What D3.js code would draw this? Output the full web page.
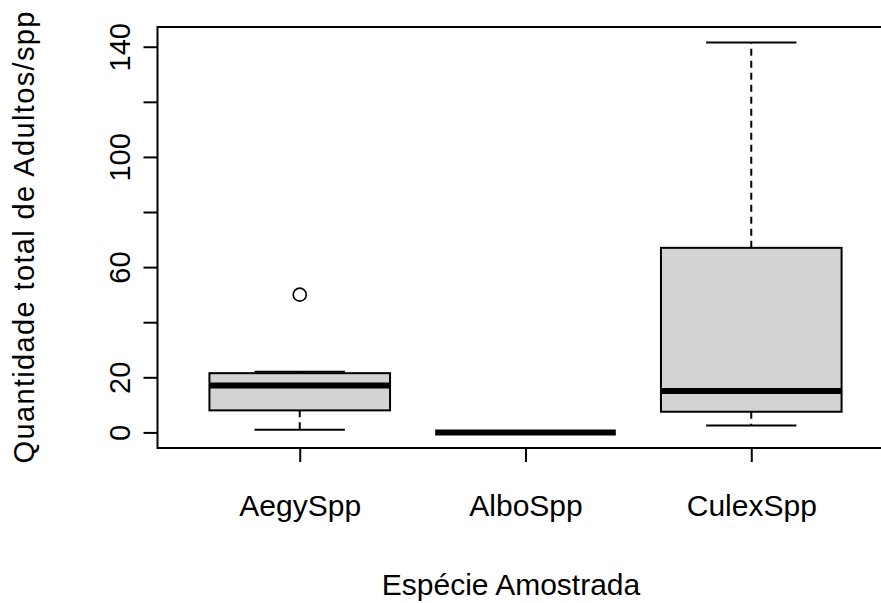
<!DOCTYPE html>
<html>
<head>
<meta charset="utf-8">
<style>
  body { margin: 0; background: #fff; }
  text { font-family: "Liberation Sans", Arial, sans-serif; fill: #000; }
  .box { fill: #d3d3d3; stroke: #000; stroke-width: 2px; }
  .median { stroke: #000; stroke-width: 6px; }
  .whisker { stroke: #000; stroke-width: 2px; stroke-dasharray: 7,5; }
  .staple { stroke: #000; stroke-width: 2px; }
  .outlier { fill: none; stroke: #000; stroke-width: 1.6px; }
</style>
<script src="https://cdn.jsdelivr.net/npm/d3@7"></script>
</head>
<body>
<script>
// summary stats
var categories = ["AegySpp", "AlboSpp", "CulexSpp"];
var lowerWhisker = [1, 0, 2.5];
var q1 = [8, 0, 7.5];
var median = [17, 0, 15];
var q3 = [21.5, 0, 67];
var upperWhisker = [22, 0, 141.5];
var outliers = [[50], [], []];
var yTicks = [0, 20, 40, 60, 80, 100, 120, 140];
var yTickLabels = ["0", "20", "", "60", "", "100", "", "140"];

var W = 881, H = 603;
var plotLeft = 157.5, plotTop = 27, plotBottom = 448, plotRight = 893.5;

var boxes = categories.map(function(c, i) {
  return {name: c, pos: i + 1, lo: lowerWhisker[i], q1: q1[i], med: median[i],
          q3: q3[i], hi: upperWhisker[i], out: outliers[i]};
});

var ymin = d3.min(boxes, function(d) { return d3.min([d.lo].concat(d.out)); });
var ymax = d3.max(boxes, function(d) { return d3.max([d.hi].concat(d.out)); });
var pad = (ymax - ymin) * 0.04;

var x = d3.scaleLinear().domain([0.37, categories.length + 0.63]).range([plotLeft, plotRight]);
var y = d3.scaleLinear().domain([ymin - pad, ymax + pad]).range([plotBottom, plotTop]);
var unit = x(2) - x(1);

var svg = d3.select("body").append("svg")
  .attr("width", W).attr("height", H);

var g = svg.selectAll(".bp")
  .data(boxes)
  .enter().append("g")
  .attr("class", "bp");

g.append("line").attr("class", "whisker")
  .attr("x1", function(d) { return x(d.pos); }).attr("x2", function(d) { return x(d.pos); })
  .attr("y1", function(d) { return y(d.q3); }).attr("y2", function(d) { return y(d.hi); });
g.append("line").attr("class", "whisker")
  .attr("x1", function(d) { return x(d.pos); }).attr("x2", function(d) { return x(d.pos); })
  .attr("y1", function(d) { return y(d.q1); }).attr("y2", function(d) { return y(d.lo); });
g.append("line").attr("class", "staple")
  .attr("x1", function(d) { return x(d.pos) - unit * 0.2; })
  .attr("x2", function(d) { return x(d.pos) + unit * 0.2; })
  .attr("y1", function(d) { return y(d.hi); }).attr("y2", function(d) { return y(d.hi); });
g.append("line").attr("class", "staple")
  .attr("x1", function(d) { return x(d.pos) - unit * 0.2; })
  .attr("x2", function(d) { return x(d.pos) + unit * 0.2; })
  .attr("y1", function(d) { return y(d.lo); }).attr("y2", function(d) { return y(d.lo); });
g.append("rect").attr("class", "box")
  .attr("x", function(d) { return x(d.pos) - unit * 0.4; })
  .attr("width", unit * 0.8)
  .attr("y", function(d) { return y(d.q3); })
  .attr("height", function(d) { return y(d.q1) - y(d.q3); });
g.append("line").attr("class", "median")
  .attr("x1", function(d) { return x(d.pos) - unit * 0.4; })
  .attr("x2", function(d) { return x(d.pos) + unit * 0.4; })
  .attr("y1", function(d) { return y(d.med); }).attr("y2", function(d) { return y(d.med); });
g.selectAll(".outlier")
  .data(function(d) { return d.out.map(function(v) { return {pos: d.pos, v: v}; }); })
  .enter().append("circle").attr("class", "outlier")
  .attr("cx", function(d) { return x(d.pos); })
  .attr("cy", function(d) { return y(d.v); })
  .attr("r", 6.5);

// frame
svg.append("rect")
  .attr("x", plotLeft).attr("y", plotTop)
  .attr("width", plotRight - plotLeft).attr("height", plotBottom - plotTop)
  .attr("fill", "none").attr("stroke", "#000").attr("stroke-width", 2);

// y axis
var yAxis = svg.append("g")
  .attr("transform", "translate(" + plotLeft + ",0)")
  .call(d3.axisLeft(y).tickValues(yTicks).tickSize(14).tickSizeOuter(0)
    .tickFormat(function(d, i) { return yTickLabels[i]; }));
yAxis.select(".domain").remove();
yAxis.attr("font-family", null).attr("font-size", null);
yAxis.selectAll("line").attr("stroke-width", 2);
yAxis.selectAll("text")
  .attr("x", 0).attr("y", -27.5).attr("dy", null)
  .attr("transform", "rotate(-90)")
  .attr("text-anchor", "middle")
  .style("font-size", "29px");

// x axis
var xAxis = svg.append("g")
  .attr("transform", "translate(0," + plotBottom + ")")
  .call(d3.axisBottom(x).tickValues(d3.range(1, categories.length + 1)).tickSize(14).tickSizeOuter(0)
    .tickFormat(function(d) { return categories[d - 1]; }));
xAxis.select(".domain").remove();
xAxis.attr("font-family", null).attr("font-size", null);
xAxis.selectAll("line").attr("stroke-width", 2);
xAxis.selectAll("text")
  .attr("y", 68).attr("dy", null)
  .style("font-size", "30px");

// axis titles
svg.append("text")
  .attr("x", 511).attr("y", 595)
  .attr("text-anchor", "middle")
  .style("font-size", "30px")
  .text("Espécie Amostrada");

svg.append("text")
  .attr("transform", "translate(34," + (plotTop + plotBottom) / 2 + ") rotate(-90)")
  .attr("text-anchor", "middle")
  .attr("textLength", 452)
  .attr("lengthAdjust", "spacing")
  .style("font-size", "29px")
  .text("Quantidade total de Adultos/spp");
</script>
</body>
</html>
